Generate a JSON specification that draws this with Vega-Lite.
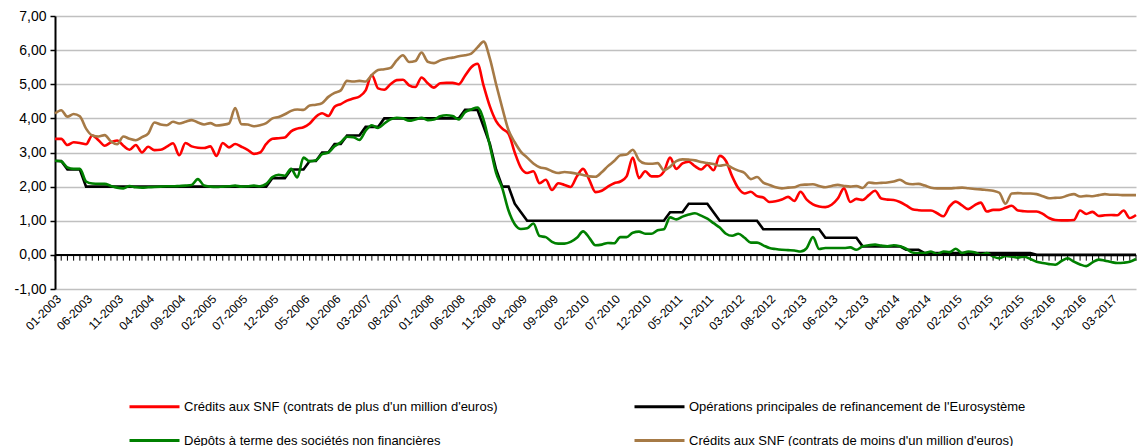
{
"$schema": "https://vega.github.io/schema/vega-lite/v6.json",
"width": 1081, "height": 273,
"autosize": {"type": "none"},
"padding": {"left": 55, "top": 16, "right": 1, "bottom": 157},
"config": {"font": "Liberation Sans", "view": {"stroke": null}},
"data": {"values": [
{"m":"01-2003","r":3.40,"k":2.75,"g":2.76,"b":4.14},
{"m":"02-2003","r":3.40,"k":2.75,"g":2.74,"b":4.24},
{"m":"03-2003","r":3.22,"k":2.50,"g":2.56,"b":4.05},
{"m":"04-2003","r":3.30,"k":2.50,"g":2.52,"b":4.13},
{"m":"05-2003","r":3.28,"k":2.50,"g":2.52,"b":4.06},
{"m":"06-2003","r":3.24,"k":2.00,"g":2.15,"b":3.70},
{"m":"07-2003","r":3.50,"k":2.00,"g":2.09,"b":3.50},
{"m":"08-2003","r":3.36,"k":2.00,"g":2.08,"b":3.47},
{"m":"09-2003","r":3.20,"k":2.00,"g":2.08,"b":3.51},
{"m":"10-2003","r":3.30,"k":2.00,"g":2.02,"b":3.32},
{"m":"11-2003","r":3.35,"k":2.00,"g":1.97,"b":3.24},
{"m":"12-2003","r":3.20,"k":2.00,"g":1.95,"b":3.47},
{"m":"01-2004","r":3.08,"k":2.00,"g":2.02,"b":3.40},
{"m":"02-2004","r":3.22,"k":2.00,"g":1.98,"b":3.36},
{"m":"03-2004","r":3.00,"k":2.00,"g":1.97,"b":3.45},
{"m":"04-2004","r":3.17,"k":2.00,"g":1.98,"b":3.55},
{"m":"05-2004","r":3.07,"k":2.00,"g":1.99,"b":3.88},
{"m":"06-2004","r":3.08,"k":2.00,"g":2.00,"b":3.82},
{"m":"07-2004","r":3.17,"k":2.00,"g":2.01,"b":3.80},
{"m":"08-2004","r":3.27,"k":2.00,"g":2.01,"b":3.90},
{"m":"09-2004","r":2.92,"k":2.00,"g":2.02,"b":3.85},
{"m":"10-2004","r":3.28,"k":2.00,"g":2.03,"b":3.90},
{"m":"11-2004","r":3.18,"k":2.00,"g":2.05,"b":3.95},
{"m":"12-2004","r":3.14,"k":2.00,"g":2.22,"b":3.88},
{"m":"01-2005","r":3.13,"k":2.00,"g":2.03,"b":3.82},
{"m":"02-2005","r":3.18,"k":2.00,"g":2.00,"b":3.86},
{"m":"03-2005","r":2.90,"k":2.00,"g":1.99,"b":3.79},
{"m":"04-2005","r":3.28,"k":2.00,"g":2.00,"b":3.81},
{"m":"05-2005","r":3.15,"k":2.00,"g":2.01,"b":3.85},
{"m":"06-2005","r":3.25,"k":2.00,"g":2.03,"b":4.30},
{"m":"07-2005","r":3.17,"k":2.00,"g":2.00,"b":3.83},
{"m":"08-2005","r":3.08,"k":2.00,"g":2.01,"b":3.82},
{"m":"09-2005","r":2.96,"k":2.00,"g":2.03,"b":3.77},
{"m":"10-2005","r":3.00,"k":2.00,"g":2.01,"b":3.80},
{"m":"11-2005","r":3.25,"k":2.00,"g":2.08,"b":3.86},
{"m":"12-2005","r":3.40,"k":2.25,"g":2.28,"b":4.00},
{"m":"01-2006","r":3.42,"k":2.25,"g":2.35,"b":4.04},
{"m":"02-2006","r":3.44,"k":2.25,"g":2.32,"b":4.12},
{"m":"03-2006","r":3.62,"k":2.50,"g":2.52,"b":4.22},
{"m":"04-2006","r":3.70,"k":2.50,"g":2.27,"b":4.26},
{"m":"05-2006","r":3.74,"k":2.50,"g":2.85,"b":4.25},
{"m":"06-2006","r":3.85,"k":2.75,"g":2.74,"b":4.38},
{"m":"07-2006","r":4.05,"k":2.75,"g":2.77,"b":4.40},
{"m":"08-2006","r":4.15,"k":3.00,"g":2.95,"b":4.45},
{"m":"09-2006","r":4.07,"k":3.00,"g":3.00,"b":4.63},
{"m":"10-2006","r":4.34,"k":3.25,"g":3.18,"b":4.75},
{"m":"11-2006","r":4.42,"k":3.25,"g":3.30,"b":4.82},
{"m":"12-2006","r":4.52,"k":3.50,"g":3.46,"b":5.10},
{"m":"01-2007","r":4.58,"k":3.50,"g":3.45,"b":5.08},
{"m":"02-2007","r":4.64,"k":3.50,"g":3.37,"b":5.10},
{"m":"03-2007","r":4.82,"k":3.75,"g":3.64,"b":5.08},
{"m":"04-2007","r":5.27,"k":3.75,"g":3.80,"b":5.27},
{"m":"05-2007","r":4.88,"k":3.75,"g":3.72,"b":5.42},
{"m":"06-2007","r":4.84,"k":4.00,"g":3.85,"b":5.44},
{"m":"07-2007","r":5.00,"k":4.00,"g":3.97,"b":5.48},
{"m":"08-2007","r":5.12,"k":4.00,"g":4.02,"b":5.70},
{"m":"09-2007","r":5.13,"k":4.00,"g":4.00,"b":5.85},
{"m":"10-2007","r":4.97,"k":4.00,"g":3.93,"b":5.65},
{"m":"11-2007","r":4.92,"k":4.00,"g":3.97,"b":5.68},
{"m":"12-2007","r":5.20,"k":4.00,"g":4.02,"b":5.93},
{"m":"01-2008","r":5.03,"k":4.00,"g":3.95,"b":5.66},
{"m":"02-2008","r":4.90,"k":4.00,"g":3.97,"b":5.62},
{"m":"03-2008","r":5.03,"k":4.00,"g":4.06,"b":5.70},
{"m":"04-2008","r":5.04,"k":4.00,"g":4.09,"b":5.75},
{"m":"05-2008","r":5.04,"k":4.00,"g":4.07,"b":5.78},
{"m":"06-2008","r":5.00,"k":4.00,"g":3.97,"b":5.82},
{"m":"07-2008","r":5.25,"k":4.25,"g":4.18,"b":5.85},
{"m":"08-2008","r":5.50,"k":4.25,"g":4.26,"b":5.90},
{"m":"09-2008","r":5.60,"k":4.25,"g":4.32,"b":6.08},
{"m":"10-2008","r":4.95,"k":3.75,"g":3.95,"b":6.25},
{"m":"11-2008","r":4.35,"k":3.25,"g":3.20,"b":5.75},
{"m":"12-2008","r":3.92,"k":2.50,"g":2.40,"b":5.00},
{"m":"01-2009","r":3.70,"k":2.00,"g":1.95,"b":4.30},
{"m":"02-2009","r":3.55,"k":2.00,"g":1.30,"b":3.65},
{"m":"03-2009","r":3.00,"k":1.50,"g":0.90,"b":3.30},
{"m":"04-2009","r":2.55,"k":1.25,"g":0.76,"b":3.02},
{"m":"05-2009","r":2.40,"k":1.00,"g":0.78,"b":2.85},
{"m":"06-2009","r":2.45,"k":1.00,"g":0.92,"b":2.68},
{"m":"07-2009","r":2.10,"k":1.00,"g":0.55,"b":2.57},
{"m":"08-2009","r":2.20,"k":1.00,"g":0.52,"b":2.53},
{"m":"09-2009","r":1.90,"k":1.00,"g":0.38,"b":2.45},
{"m":"10-2009","r":2.10,"k":1.00,"g":0.33,"b":2.40},
{"m":"11-2009","r":2.05,"k":1.00,"g":0.33,"b":2.43},
{"m":"12-2009","r":1.99,"k":1.00,"g":0.38,"b":2.41},
{"m":"01-2010","r":2.30,"k":1.00,"g":0.50,"b":2.38},
{"m":"02-2010","r":2.52,"k":1.00,"g":0.69,"b":2.34},
{"m":"03-2010","r":2.20,"k":1.00,"g":0.50,"b":2.30},
{"m":"04-2010","r":1.84,"k":1.00,"g":0.28,"b":2.29},
{"m":"05-2010","r":1.88,"k":1.00,"g":0.30,"b":2.42},
{"m":"06-2010","r":2.00,"k":1.00,"g":0.35,"b":2.60},
{"m":"07-2010","r":2.10,"k":1.00,"g":0.34,"b":2.75},
{"m":"08-2010","r":2.15,"k":1.00,"g":0.52,"b":2.92},
{"m":"09-2010","r":2.30,"k":1.00,"g":0.52,"b":2.94},
{"m":"10-2010","r":2.85,"k":1.00,"g":0.65,"b":3.08},
{"m":"11-2010","r":2.25,"k":1.00,"g":0.68,"b":2.78},
{"m":"12-2010","r":2.45,"k":1.00,"g":0.62,"b":2.68},
{"m":"01-2011","r":2.30,"k":1.00,"g":0.62,"b":2.67},
{"m":"02-2011","r":2.30,"k":1.00,"g":0.72,"b":2.69},
{"m":"03-2011","r":2.44,"k":1.00,"g":0.75,"b":2.48},
{"m":"04-2011","r":2.85,"k":1.25,"g":1.10,"b":2.58},
{"m":"05-2011","r":2.52,"k":1.25,"g":1.04,"b":2.75},
{"m":"06-2011","r":2.68,"k":1.25,"g":1.12,"b":2.80},
{"m":"07-2011","r":2.73,"k":1.50,"g":1.18,"b":2.79},
{"m":"08-2011","r":2.60,"k":1.50,"g":1.22,"b":2.77},
{"m":"09-2011","r":2.50,"k":1.50,"g":1.15,"b":2.72},
{"m":"10-2011","r":2.64,"k":1.50,"g":1.06,"b":2.69},
{"m":"11-2011","r":2.48,"k":1.25,"g":0.93,"b":2.66},
{"m":"12-2011","r":2.90,"k":1.00,"g":0.80,"b":2.61},
{"m":"01-2012","r":2.75,"k":1.00,"g":0.62,"b":2.64},
{"m":"02-2012","r":2.30,"k":1.00,"g":0.56,"b":2.55},
{"m":"03-2012","r":1.95,"k":1.00,"g":0.62,"b":2.47},
{"m":"04-2012","r":1.80,"k":1.00,"g":0.50,"b":2.40},
{"m":"05-2012","r":1.85,"k":1.00,"g":0.36,"b":2.22},
{"m":"06-2012","r":1.72,"k":1.00,"g":0.36,"b":2.28},
{"m":"07-2012","r":1.68,"k":0.75,"g":0.28,"b":2.12},
{"m":"08-2012","r":1.55,"k":0.75,"g":0.20,"b":2.05},
{"m":"09-2012","r":1.57,"k":0.75,"g":0.17,"b":1.98},
{"m":"10-2012","r":1.62,"k":0.75,"g":0.15,"b":1.95},
{"m":"11-2012","r":1.70,"k":0.75,"g":0.14,"b":1.97},
{"m":"12-2012","r":1.58,"k":0.75,"g":0.13,"b":1.98},
{"m":"01-2013","r":1.85,"k":0.75,"g":0.10,"b":2.05},
{"m":"02-2013","r":1.62,"k":0.75,"g":0.20,"b":2.06},
{"m":"03-2013","r":1.48,"k":0.75,"g":0.52,"b":2.07},
{"m":"04-2013","r":1.42,"k":0.75,"g":0.17,"b":2.02},
{"m":"05-2013","r":1.40,"k":0.50,"g":0.20,"b":1.98},
{"m":"06-2013","r":1.47,"k":0.50,"g":0.20,"b":2.02},
{"m":"07-2013","r":1.65,"k":0.50,"g":0.20,"b":2.05},
{"m":"08-2013","r":1.95,"k":0.50,"g":0.20,"b":2.02},
{"m":"09-2013","r":1.55,"k":0.50,"g":0.22,"b":2.00},
{"m":"10-2013","r":1.64,"k":0.50,"g":0.15,"b":2.02},
{"m":"11-2013","r":1.61,"k":0.25,"g":0.25,"b":1.96},
{"m":"12-2013","r":1.75,"k":0.25,"g":0.28,"b":2.12},
{"m":"01-2014","r":1.88,"k":0.25,"g":0.30,"b":2.10},
{"m":"02-2014","r":1.65,"k":0.25,"g":0.27,"b":2.11},
{"m":"03-2014","r":1.62,"k":0.25,"g":0.25,"b":2.12},
{"m":"04-2014","r":1.61,"k":0.25,"g":0.28,"b":2.15},
{"m":"05-2014","r":1.55,"k":0.25,"g":0.25,"b":2.20},
{"m":"06-2014","r":1.45,"k":0.15,"g":0.18,"b":2.10},
{"m":"07-2014","r":1.34,"k":0.15,"g":0.07,"b":2.07},
{"m":"08-2014","r":1.31,"k":0.15,"g":0.05,"b":2.08},
{"m":"09-2014","r":1.30,"k":0.05,"g":0.05,"b":2.03},
{"m":"10-2014","r":1.30,"k":0.05,"g":0.10,"b":1.97},
{"m":"11-2014","r":1.22,"k":0.05,"g":0.02,"b":1.95},
{"m":"12-2014","r":1.13,"k":0.05,"g":0.10,"b":1.95},
{"m":"01-2015","r":1.42,"k":0.05,"g":0.08,"b":1.95},
{"m":"02-2015","r":1.56,"k":0.05,"g":0.18,"b":1.96},
{"m":"03-2015","r":1.45,"k":0.05,"g":0.05,"b":1.97},
{"m":"04-2015","r":1.34,"k":0.05,"g":0.10,"b":1.95},
{"m":"05-2015","r":1.45,"k":0.05,"g":0.08,"b":1.93},
{"m":"06-2015","r":1.53,"k":0.05,"g":0.00,"b":1.92},
{"m":"07-2015","r":1.27,"k":0.05,"g":0.05,"b":1.90},
{"m":"08-2015","r":1.32,"k":0.05,"g":-0.05,"b":1.88},
{"m":"09-2015","r":1.32,"k":0.05,"g":-0.10,"b":1.82},
{"m":"10-2015","r":1.38,"k":0.05,"g":-0.03,"b":1.50},
{"m":"11-2015","r":1.44,"k":0.05,"g":-0.05,"b":1.80},
{"m":"12-2015","r":1.30,"k":0.05,"g":-0.08,"b":1.81},
{"m":"01-2016","r":1.28,"k":0.05,"g":-0.05,"b":1.80},
{"m":"02-2016","r":1.27,"k":0.05,"g":-0.12,"b":1.80},
{"m":"03-2016","r":1.27,"k":0.00,"g":-0.20,"b":1.78},
{"m":"04-2016","r":1.20,"k":0.00,"g":-0.24,"b":1.72},
{"m":"05-2016","r":1.08,"k":0.00,"g":-0.27,"b":1.66},
{"m":"06-2016","r":1.02,"k":0.00,"g":-0.29,"b":1.67},
{"m":"07-2016","r":1.01,"k":0.00,"g":-0.18,"b":1.68},
{"m":"08-2016","r":1.01,"k":0.00,"g":-0.10,"b":1.74},
{"m":"09-2016","r":1.02,"k":0.00,"g":-0.20,"b":1.78},
{"m":"10-2016","r":1.30,"k":0.00,"g":-0.28,"b":1.71},
{"m":"11-2016","r":1.20,"k":0.00,"g":-0.33,"b":1.73},
{"m":"12-2016","r":1.26,"k":0.00,"g":-0.22,"b":1.72},
{"m":"01-2017","r":1.14,"k":0.00,"g":-0.14,"b":1.75},
{"m":"02-2017","r":1.16,"k":0.00,"g":-0.17,"b":1.78},
{"m":"03-2017","r":1.17,"k":0.00,"g":-0.21,"b":1.76},
{"m":"04-2017","r":1.16,"k":0.00,"g":-0.24,"b":1.76},
{"m":"05-2017","r":1.30,"k":0.00,"g":-0.23,"b":1.75},
{"m":"06-2017","r":1.08,"k":0.00,"g":-0.20,"b":1.75},
{"m":"07-2017","r":1.17,"k":0.00,"g":-0.12,"b":1.75}
]},
"layer": [
{
 "mark": {"type": "rule", "color": "#000000", "strokeWidth": 1},
 "encoding": {
  "x": {"field": "m", "type": "ordinal", "sort": null,
   "scale": {"type": "point", "padding": 0},
   "axis": {"values": ["01-2003","06-2003","11-2003","04-2004","09-2004","02-2005","07-2005","12-2005","05-2006","10-2006","03-2007","08-2007","01-2008","06-2008","11-2008","04-2009","09-2009","02-2010","07-2010","12-2010","05-2011","10-2011","03-2012","08-2012","01-2013","06-2013","11-2013","04-2014","09-2014","02-2015","07-2015","12-2015","05-2016","10-2016","03-2017"],
    "labelAngle": -45, "labelAlign": "right", "labelBaseline": "top", "labelOverlap": false,
    "ticks": false, "domain": false, "grid": false, "title": null,
    "labelFontSize": 12, "labelColor": "#000000", "labelPadding": 4}},
  "y": {"datum": 0, "type": "quantitative",
   "scale": {"domain": [-1, 7], "nice": false, "zero": false},
   "axis": {"values": [-1,0,1,2,3,4,5,6,7], "tickCount": 20, "title": null, "labelOverlap": false,
    "labelExpr": "replace(replace(format(datum.value, '.2f'), '.', ','), '\u2212', '-')",
    "grid": true, "gridColor": "#c0c0c0", "gridWidth": 1.5,
    "domainColor": "#000000", "domainWidth": 2,
    "tickColor": "#000000", "tickSize": 5, "tickWidth": 1.5,
    "labelFontSize": 14, "labelColor": "#000000", "labelPadding": 4}},
  "y2": {"datum": -0.17}
 }
},
{
 "mark": {"type": "line", "strokeWidth": 2.6},
 "transform": [{"fold": ["k"], "as": ["s", "v"]}],
 "encoding": {
  "x": {"field": "m", "type": "ordinal", "sort": null},
  "y": {"field": "v", "type": "quantitative"},
  "color": {"field": "s", "type": "nominal",
   "scale": {"domain": ["r","k","g","b"], "range": ["#ff0000","#000000","#008000","#a67a46"]},
   "legend": {"orient": "none", "direction": "horizontal", "legendX": 73, "legendY": 364, "columns": 2,
    "columnPadding": 130, "rowPadding": -2, "symbolType": "stroke", "symbolSize": 2500,
    "symbolStrokeWidth": 3, "labelFontSize": 13, "labelLimit": 0, "labelColor": "#000000",
    "labelOffset": 3, "title": null, "padding": 0,
    "labelExpr": "datum.value == 'r' ? \"Crédits aux SNF (contrats de plus d'un million d'euros)\" : datum.value == 'k' ? \"Opérations principales de refinancement de l'Eurosystème\" : datum.value == 'g' ? 'Dépôts à terme des sociétés non financières' : \"Crédits aux SNF (contrats de moins d'un million d'euros)\""}}
 }
},
{
 "mark": {"type": "line", "strokeWidth": 2.6, "interpolate": "monotone"},
 "transform": [{"fold": ["r","g","b"], "as": ["s", "v"]}],
 "encoding": {
  "x": {"field": "m", "type": "ordinal", "sort": null},
  "y": {"field": "v", "type": "quantitative"},
  "color": {"field": "s", "type": "nominal"}
 }
},
{
 "mark": {"type": "rule", "color": "#000000", "strokeWidth": 2},
 "encoding": {"y": {"datum": 0, "type": "quantitative"}}
}
]
}
